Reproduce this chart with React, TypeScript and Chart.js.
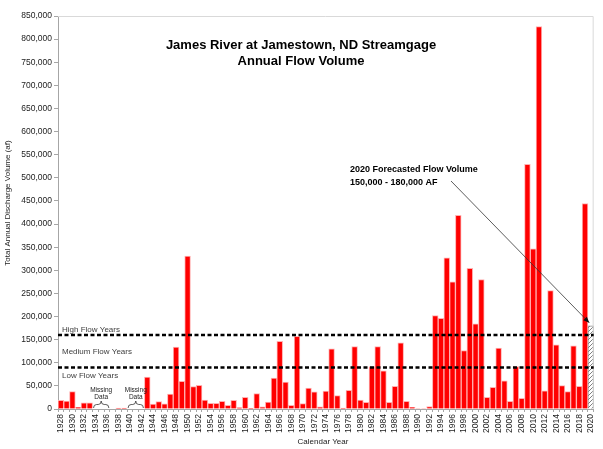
import React, { useEffect, useRef } from 'react';
import { Chart, registerables } from 'chart.js';

Chart.register(...registerables);

const FONT = '"Liberation Sans", Arial, Helvetica, sans-serif';

const YEARS = [
  1928, 1929, 1930, 1931, 1932, 1933, 1934, 1935, 1936, 1937,
  1938, 1939, 1940, 1941, 1942, 1943, 1944, 1945, 1946, 1947,
  1948, 1949, 1950, 1951, 1952, 1953, 1954, 1955, 1956, 1957,
  1958, 1959, 1960, 1961, 1962, 1963, 1964, 1965, 1966, 1967,
  1968, 1969, 1970, 1971, 1972, 1973, 1974, 1975, 1976, 1977,
  1978, 1979, 1980, 1981, 1982, 1983, 1984, 1985, 1986, 1987,
  1988, 1989, 1990, 1991, 1992, 1993, 1994, 1995, 1996, 1997,
  1998, 1999, 2000, 2001, 2002, 2003, 2004, 2005, 2006, 2007,
  2008, 2009, 2010, 2011, 2012, 2013, 2014, 2015, 2016, 2017,
  2018, 2019, 2020,
];

// Annual discharge volume (acre-feet); null = missing / not yet measured
const FLOW = [
  19000, 17000, 37500, 3500, 13500, 13500, null, null, null, null,
  2000, 2000, null, null, null, 69000, 10500, 16000, 11000, 32000,
  134000, 60000, 331000, 48500, 51000, 19500, 12500, 12000, 16500, 8000,
  19000, 3000, 25500, 1500, 33500, 4500, 15000, 67000, 146500, 58000,
  8000, 157000, 11500, 45000, 37000, 4500, 38500, 130000, 29000, 2000,
  40500, 135000, 19500, 14500, 92000, 135000, 82500, 14500, 49000, 143000,
  16500, 3500, 1000, 1000, 5000, 202000, 196000, 327000, 275000, 419000,
  126500, 304000, 184000, 280000, 25500, 47000, 132000, 61000, 16500, 91500,
  23000, 529000, 346500, 827000, 39500, 256000, 139000, 50500, 37500, 136500,
  49000, 444500, null,
];

const FORECAST_YEAR = 2020;
const FORECAST_LOW = 150000;
const FORECAST_HIGH = 180000;

const HIGH_FLOW = 160000;
const MEDIUM_FLOW = 90000;

const MISSING_RANGES = [
  [1934, 1936],
  [1940, 1942],
];

const Y_MAX = 850000;
const Y_STEP = 50000;

const TITLE_LINES = ['James River at Jamestown, ND Streamgage', 'Annual Flow Volume'];
const Y_TITLE = 'Total Annual Discharge Volume (af)';
const X_TITLE = 'Calendar Year';
const NOTE_LINES = [
  `${FORECAST_YEAR} Forecasted Flow Volume`,
  `${FORECAST_LOW.toLocaleString('en-US')} - ${FORECAST_HIGH.toLocaleString('en-US')} AF`,
];

export default function App() {
  const ref = useRef<HTMLCanvasElement>(null);

  useEffect(() => {
    const canvas = ref.current;
    if (!canvas) return;

    const pc = document.createElement('canvas');
    pc.width = 4;
    pc.height = 4;
    const p = pc.getContext('2d')!;
    p.fillStyle = '#ffffff';
    p.fillRect(0, 0, 4, 4);
    p.strokeStyle = '#7f7f7f';
    p.lineWidth = 1;
    p.beginPath();
    p.moveTo(0, 4);
    p.lineTo(4, 0);
    p.moveTo(-1, 1);
    p.lineTo(1, -1);
    p.moveTo(3, 5);
    p.lineTo(5, 3);
    p.stroke();
    const pattern = canvas.getContext('2d')!.createPattern(pc, 'repeat');

    const forecast = YEARS.map((yr) => (yr === FORECAST_YEAR ? FORECAST_HIGH : null));

    const annot = {
      id: 'annot',
      afterDatasetsDraw(chart: any) {
        const ctx = chart.ctx as CanvasRenderingContext2D;
        const xs = chart.scales.x;
        const ys = chart.scales.y;
        const { left, right, top, bottom } = chart.chartArea;
        const half = (xs.getPixelForValue(1) - xs.getPixelForValue(0)) / 2;
        ctx.save();

        // plot border
        ctx.strokeStyle = '#d9d9d9';
        ctx.lineWidth = 1;
        ctx.beginPath();
        ctx.moveTo(left, top + 0.5);
        ctx.lineTo(right - 0.5, top + 0.5);
        ctx.lineTo(right - 0.5, bottom);
        ctx.stroke();

        // threshold lines
        ctx.strokeStyle = '#000';
        ctx.lineWidth = 2.5;
        ctx.setLineDash([4, 2.5]);
        for (const v of [HIGH_FLOW, MEDIUM_FLOW]) {
          const yy = ys.getPixelForValue(v);
          ctx.beginPath();
          ctx.moveTo(left, yy);
          ctx.lineTo(right, yy);
          ctx.stroke();
        }
        ctx.setLineDash([]);

        // band labels
        const hy = ys.getPixelForValue(HIGH_FLOW);
        const my = ys.getPixelForValue(MEDIUM_FLOW);
        ctx.font = `8px ${FONT}`;
        ctx.fillStyle = '#404040';
        ctx.textAlign = 'left';
        ctx.textBaseline = 'middle';
        ctx.fillText('High Flow Years', left + 4, hy - 5.5);
        ctx.fillText('Medium Flow Years', left + 4, my - 16);
        ctx.fillText('Low Flow Years', left + 4, my + 8.5);

        // missing data braces
        ctx.strokeStyle = '#333';
        ctx.lineWidth = 0.8;
        ctx.fillStyle = '#222';
        ctx.font = `6.5px ${FONT}`;
        ctx.textAlign = 'center';
        for (const [a, b] of MISSING_RANGES) {
          const x0 = xs.getPixelForValue(YEARS.indexOf(a)) - half + 1;
          const x1 = xs.getPixelForValue(YEARS.indexOf(b)) + half - 1;
          const mid = (x0 + x1) / 2;
          const yt = bottom - 8;
          const ym = bottom - 4.5;
          const yb = bottom - 1;
          ctx.beginPath();
          ctx.moveTo(x0, yb);
          ctx.quadraticCurveTo(x0, ym, x0 + 3, ym);
          ctx.lineTo(mid - 3, ym);
          ctx.quadraticCurveTo(mid, ym, mid, yt);
          ctx.quadraticCurveTo(mid, ym, mid + 3, ym);
          ctx.lineTo(x1 - 3, ym);
          ctx.quadraticCurveTo(x1, ym, x1, yb);
          ctx.stroke();
          ctx.fillText('Missing', mid, bottom - 18.5);
          ctx.fillText('Data', mid, bottom - 11.5);
        }

        // forecast note
        ctx.fillStyle = '#000';
        ctx.font = `bold 9px ${FONT}`;
        ctx.textAlign = 'left';
        ctx.fillText(NOTE_LINES[0], 350, 170);
        ctx.fillText(NOTE_LINES[1], 350, 183);

        // arrow
        const tipX = xs.getPixelForValue(YEARS.indexOf(FORECAST_YEAR)) - 1.5;
        const tipY = ys.getPixelForValue(FORECAST_HIGH) - 3;
        const sx = 451;
        const sy = 181;
        ctx.strokeStyle = '#333';
        ctx.lineWidth = 0.8;
        ctx.beginPath();
        ctx.moveTo(sx, sy);
        ctx.lineTo(tipX, tipY);
        ctx.stroke();
        const ang = Math.atan2(tipY - sy, tipX - sx);
        const L = 6;
        const W = 2.5;
        ctx.fillStyle = '#111';
        ctx.beginPath();
        ctx.moveTo(tipX, tipY);
        ctx.lineTo(tipX - L * Math.cos(ang) + W * Math.sin(ang), tipY - L * Math.sin(ang) - W * Math.cos(ang));
        ctx.lineTo(tipX - L * Math.cos(ang) - W * Math.sin(ang), tipY - L * Math.sin(ang) + W * Math.cos(ang));
        ctx.closePath();
        ctx.fill();

        // title
        ctx.fillStyle = '#000';
        ctx.font = `bold 13px ${FONT}`;
        ctx.textAlign = 'center';
        ctx.fillText(TITLE_LINES[0], 301, 45);
        ctx.fillText(TITLE_LINES[1], 301, 61);

        // axis titles
        ctx.fillStyle = '#222';
        ctx.font = `8px ${FONT}`;
        ctx.fillText(X_TITLE, 323, 442);
        ctx.translate(8, 203);
        ctx.rotate(-Math.PI / 2);
        ctx.fillText(Y_TITLE, 0, 0);

        ctx.restore();
      },
    };

    const chart = new Chart(canvas, {
      type: 'bar',
      data: {
        labels: YEARS.map(String),
        datasets: [
          {
            data: FLOW as any,
            backgroundColor: '#ff0000',
            borderColor: '#ffb0b0',
            borderWidth: 1,
            barPercentage: 1,
            categoryPercentage: 1,
            grouped: false,
          } as any,
          {
            data: forecast as any,
            backgroundColor: pattern as any,
            borderColor: '#8c8c8c',
            borderWidth: 1,
            barPercentage: 1,
            categoryPercentage: 1,
            grouped: false,
          } as any,
        ],
      },
      options: {
        responsive: false,
        animation: false,
        devicePixelRatio: 1,
        layout: { padding: { left: 0, top: 16, right: 4, bottom: 0 } },
        plugins: {
          legend: { display: false },
          tooltip: { enabled: false },
          title: { display: false },
        },
        scales: {
          x: {
            grid: { display: true, drawOnChartArea: false, drawTicks: true, tickLength: 3, color: '#a6a6a6' },
            border: { display: true, color: '#a6a6a6' },
            ticks: {
              autoSkip: false,
              minRotation: 90,
              maxRotation: 90,
              padding: 2,
              color: '#222',
              font: { family: FONT, size: 8.5 },
              callback: (_v: any, i: number) => (i % 2 === 0 ? String(YEARS[i]) : ''),
            },
            afterFit: (s: any) => {
              s.height = 40;
            },
          },
          y: {
            min: 0,
            max: Y_MAX,
            grid: { display: true, drawOnChartArea: false, drawTicks: true, tickLength: 4, color: '#a6a6a6' },
            border: { display: true, color: '#a6a6a6' },
            ticks: {
              stepSize: Y_STEP,
              autoSkip: false,
              padding: 2,
              color: '#222',
              font: { family: FONT, size: 8.5 },
              callback: (v: any) => Number(v).toLocaleString('en-US'),
            },
            afterFit: (s: any) => {
              s.width = 58;
            },
          },
        },
      },
      plugins: [annot],
    });

    return () => chart.destroy();
  }, []);

  return (
    <div style={{ position: 'fixed', left: 0, top: 0, width: 603, height: 449, background: '#fff' }}>
      <canvas ref={ref} width={603} height={449} style={{ display: 'block' }} />
    </div>
  );
}
